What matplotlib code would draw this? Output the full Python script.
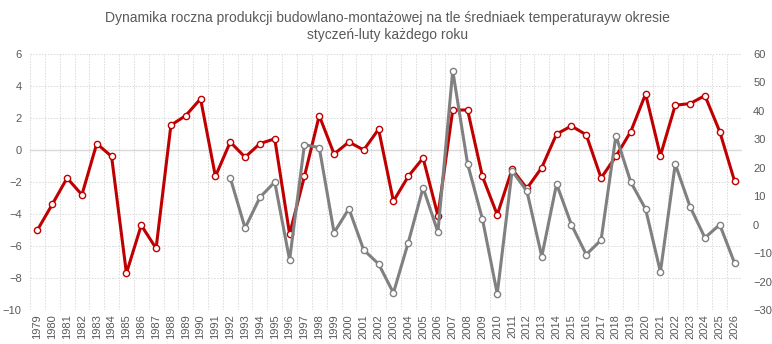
import numpy as np
import matplotlib.pyplot as plt

plt.rcParams['font.family'] = ['Liberation Sans', 'DejaVu Sans']

years = list(range(1979, 2027))

# dynamika produkcji (lewa oś)
produkcja = [-5.0, -3.4, -1.75, -2.8, 0.4, -0.4, -7.7, -4.7, -6.15, 1.55,
             2.15, 3.2, -1.65, 0.5, -0.45, 0.4, 0.7, -5.25, -1.65, 2.15,
             -0.25, 0.5, 0.0, 1.3, -3.2, -1.65, -0.5, -4.1, 2.5, 2.5,
             -1.65, -4.05, -1.2, -2.4, -1.1, 1.0, 1.5, 0.95, -1.75, -0.4,
             1.15, 3.5, -0.35, 2.8, 2.9, 3.4, 1.15, -1.95]

# temperatura (prawa oś), dane od 1992
temperatura = [np.nan] * 13 + [
    16.5, -1.2, 9.6, 15.0, -12.4, 28.1, 27.1, -2.8, 5.6, -8.9,
    -13.8, -24.0, -6.3, 13.0, -2.6, 54.1, 21.4, 2.0, -24.3, 18.9,
    11.8, -11.2, 14.3, 0.0, -10.5, -5.4, 31.3, 15.0, 5.5, -16.6,
    21.3, 6.3, -4.6, 0.0, -13.5]

fig = plt.figure(figsize=(7.72, 3.44), dpi=100)
ax = fig.add_axes([30/772, 1 - 310/344, 712/772, 256/344])
ax2 = ax.twinx()

x = np.arange(len(years))
txt = '#595959'
grid = '#d9d9d9'

ax.plot(x, produkcja, color='#c00000', lw=2.2, marker='o', ms=4.5,
        mfc='white', mec='#c00000', mew=1.0, zorder=3)
ax2.plot(x, temperatura, color='#808080', lw=2.2, marker='o', ms=4.5,
         mfc='white', mec='#808080', mew=1.0, zorder=3)

ax.set_xlim(-0.5, len(years) - 0.5)
ax.set_ylim(-10, 6)
ax2.set_ylim(-30, 60)
ax.set_yticks(range(-10, 7, 2))
ax2.set_yticks(range(-30, 61, 10))
ax.set_xticks(x)
ax.set_xticklabels([str(y) for y in years], rotation=90)

# pionowe linie siatki pomiędzy latami
for b in np.arange(-0.5, len(years), 1.0):
    ax.axvline(b, color=grid, lw=0.7, ls=(0, (1.5, 1.5)), zorder=0)
for v in range(-10, 7, 2):
    if v == 0:
        ax.axhline(v, color=grid, lw=1.0, zorder=1)
    else:
        ax.axhline(v, color=grid, lw=0.7, ls=(0, (1.5, 1.5)), zorder=0)

for a in (ax, ax2):
    for s in a.spines.values():
        s.set_visible(False)
    a.tick_params(length=0, colors=txt, labelsize=8)
ax.tick_params(axis='x', pad=3)
ax.tick_params(axis='y', pad=6)
ax2.tick_params(axis='y', pad=8)

fig.suptitle('Dynamika roczna produkcji budowlano-montażowej na tle średniaek temperaturayw okresie\n'
             'styczeń-luty każdego roku', color=txt, fontsize=10, y=0.968,
             x=0.502, va='top', linespacing=1.25)

fig.savefig('out.png', dpi=100)
